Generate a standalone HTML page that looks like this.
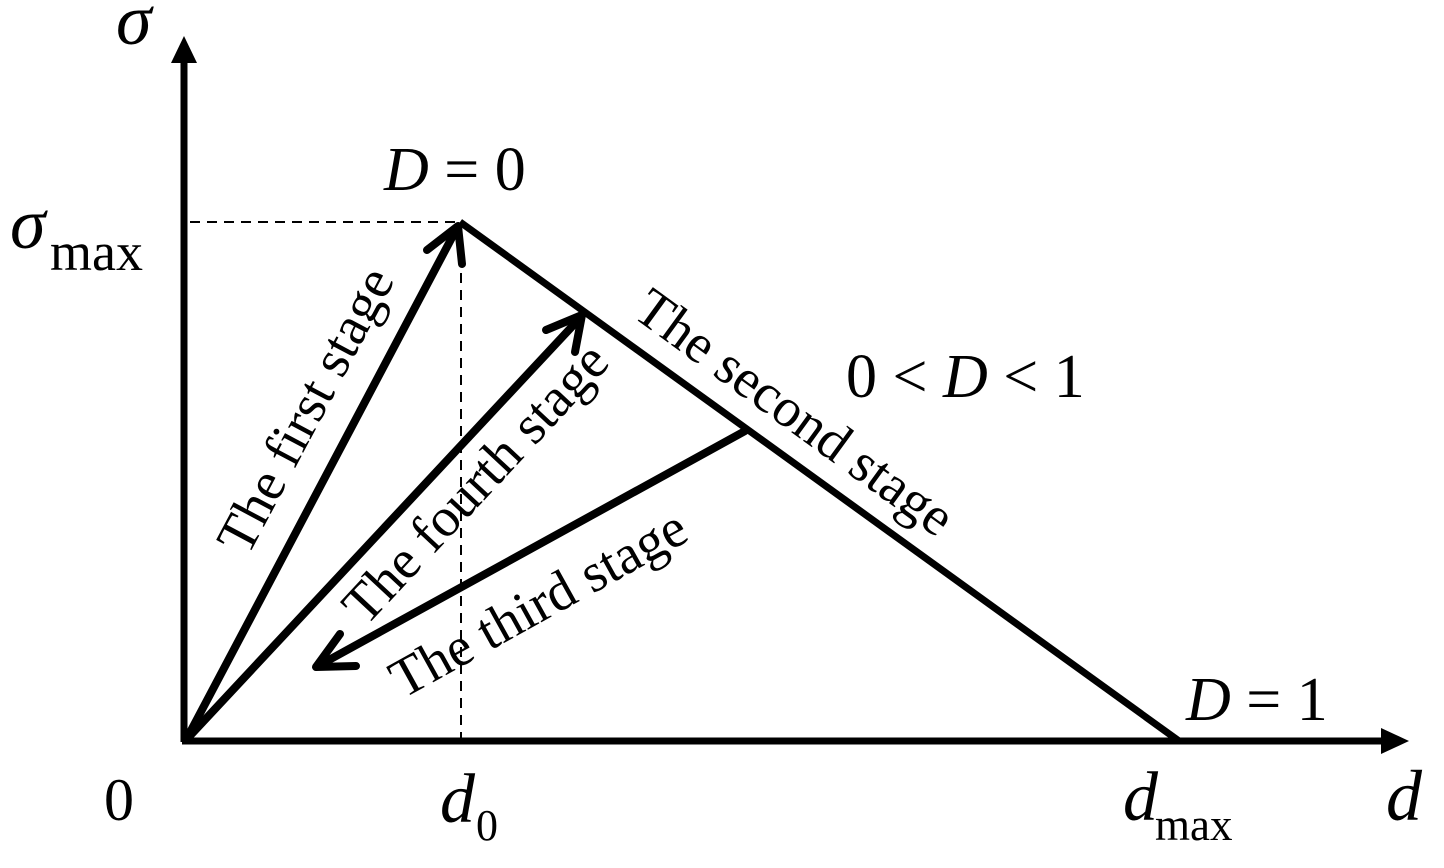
<!DOCTYPE html>
<html><head><meta charset="utf-8"><style>
html,body{margin:0;padding:0;background:#fff;}
svg{display:block;}
text{font-family:"Liberation Serif",serif;fill:#000;}
.i{font-style:italic;}
</style></head><body>
<svg width="1444" height="868" viewBox="0 0 1444 868" xmlns="http://www.w3.org/2000/svg">
<line x1="190" y1="222" x2="460" y2="222" stroke="#000" stroke-width="2" stroke-dasharray="10,7"/>
<line x1="461" y1="222" x2="461" y2="742" stroke="#000" stroke-width="2" stroke-dasharray="10,7"/>
<line x1="184" y1="742" x2="184" y2="60" stroke="#000" stroke-width="7"/>
<polygon points="184,36 171,63 197,63" fill="#000"/>
<line x1="182" y1="741" x2="1385" y2="741" stroke="#000" stroke-width="7"/>
<polygon points="1409,741 1381,728 1381,754" fill="#000"/>
<line x1="460" y1="222" x2="1179" y2="741" stroke="#000" stroke-width="7"/>
<g stroke="#000" stroke-width="8" stroke-linecap="round" stroke-linejoin="round" fill="none">
<line x1="186" y1="740" x2="457" y2="228"/>
<polyline points="427,250 458,226 462,264"/>
<line x1="186" y1="740" x2="580" y2="318"/>
<polyline points="546,330 582,315 575,352"/>
<line x1="745" y1="431" x2="318" y2="666"/>
<polyline points="340,634 316,667 356,666"/>
</g>
<text x="116" y="44" class="i" font-size="72">σ</text>
<text x="10" y="248" class="i" font-size="72">σ</text>
<text x="50" y="270" font-size="54">max</text>
<text x="384" y="190" font-size="62"><tspan class="i">D</tspan> = 0</text>
<text x="846" y="397" font-size="62">0 &lt; <tspan class="i">D</tspan> &lt; 1</text>
<text x="1186" y="720" font-size="62"><tspan class="i">D</tspan> = 1</text>
<text x="104" y="820" font-size="60">0</text>
<text x="440" y="822" class="i" font-size="70">d</text>
<text x="476" y="840" font-size="44">0</text>
<text x="1123" y="820" class="i" font-size="70">d</text>
<text x="1155" y="840" font-size="45">max</text>
<text x="1386" y="820" class="i" font-size="72">d</text>
<g font-size="55" text-anchor="middle" dominant-baseline="central">
<text transform="translate(305,410) rotate(-62)">The first stage</text>
<text transform="translate(475,483) rotate(-47)">The fourth stage</text>
<text transform="translate(538,603) rotate(-29)">The third stage</text>
<text transform="translate(795,412) rotate(36)">The second stage</text>
</g>
</svg>
</body></html>
